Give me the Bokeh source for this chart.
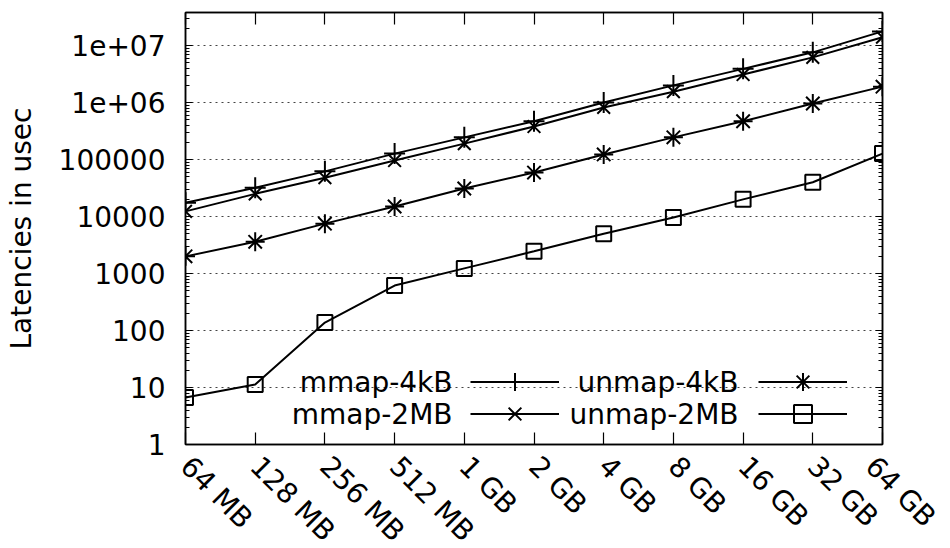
import math
from bokeh.plotting import figure
from bokeh.models import (Range1d, LogAxis, LinearAxis, FixedTicker, Legend,
                          LegendItem, Label)
from bokeh.embed import file_html
from bokeh.resources import INLINE
from bokeh.core.properties import value

sizes = ["64 MB", "128 MB", "256 MB", "512 MB", "1 GB", "2 GB", "4 GB",
         "8 GB", "16 GB", "32 GB", "64 GB"]
mmap_4kb = [17500, 32000, 62000, 127000, 245000, 470000, 1000000, 2000000,
            3900000, 7600000, 17700000]
mmap_2mb = [12300, 25000, 48000, 96000, 190000, 380000, 820000, 1550000,
            3100000, 6200000, 14000000]
unmap_4kb = [2000, 3600, 7500, 15000, 31000, 59000, 123000, 245000, 470000,
             960000, 1900000]
unmap_2mb = [6.7, 11.3, 138, 615, 1230, 2450, 5000, 9600, 20000, 40000, 127000]
y_ticks = [1, 10, 100, 1000, 10000, 100000, 1000000, 10000000]
y_tick_labels = ["1", "10", "100", "1000", "10000", "100000", "1e+06", "1e+07"]

FONT = "DejaVu Sans"
FS = "28px"

idx = list(range(len(sizes)))
minor = [k * t for t in y_ticks for k in range(2, 10)]

p = figure(frame_width=697, frame_height=432, y_axis_type="log",
           x_range=Range1d(0, len(sizes) - 1), y_range=Range1d(1, 3.8e7),
           output_backend="svg", toolbar_location=None,
           min_border_left=185, min_border_top=12, min_border_right=60,
           min_border_bottom=90)
p.outline_line_color = "black"
p.outline_line_width = 1.5
p.background_fill_color = "white"

yt = FixedTicker(ticks=y_ticks, minor_ticks=minor)
xt = FixedTicker(ticks=idx, minor_ticks=[])

def style_axis(ax, labels=True, major_in=7, minor_in=4):
    ax.axis_line_color = "black"
    ax.axis_line_width = 1.5
    ax.major_tick_in = major_in
    ax.major_tick_out = 0
    ax.minor_tick_in = minor_in
    ax.minor_tick_out = 0
    ax.major_tick_line_color = "black"
    ax.minor_tick_line_color = "black"
    ax.major_tick_line_width = 1.2
    ax.minor_tick_line_width = 1.2
    ax.major_label_text_font = FONT
    ax.major_label_text_color = "black"
    if labels:
        ax.major_label_text_font_size = FS
    else:
        ax.major_label_text_font_size = "1px"
        ax.major_label_text_alpha = 0
        ax.major_label_standoff = 0

# left y axis
ya = p.yaxis[0]
ya.ticker = yt
style_axis(ya)
ya.major_label_overrides = {t: l for t, l in zip(y_ticks, y_tick_labels)}
ya.major_label_standoff = 20
ya.axis_label = "Latencies in usec"
ya.axis_label_text_font = FONT
ya.axis_label_text_font_size = FS
ya.axis_label_text_font_style = "normal"
ya.axis_label_text_color = "black"
ya.axis_label_standoff = 18

# bottom x axis
xa = p.xaxis[0]
xa.ticker = xt
style_axis(xa, major_in=12)
xa.major_label_overrides = {i: s for i, s in zip(idx, sizes)}
xa.major_label_orientation = -math.pi / 4
xa.major_label_standoff = 17

# mirrored axes
ra = LogAxis(ticker=yt)
style_axis(ra, labels=False)
p.add_layout(ra, "right")
ta = LinearAxis(ticker=xt)
style_axis(ta, labels=False, major_in=12)
p.add_layout(ta, "above")

p.xgrid.visible = False
p.ygrid.ticker = yt
p.ygrid.grid_line_color = "#444444"
p.ygrid.grid_line_width = 1
p.ygrid.grid_line_dash = "2 4"

series = [
    ("mmap-4kB", mmap_4kb, "cross", 21),
    ("mmap-2MB", mmap_2mb, "x", 18),
    ("unmap-4kB", unmap_4kb, "asterisk", 19),
    ("unmap-2MB", unmap_2mb, "square", 15),
]
items = {}
for name, ys, mk, sz in series:
    lr = p.line(idx, ys, line_color="black", line_width=2)
    sr = p.scatter(idx, ys, marker=mk, size=sz, line_color="black",
                   line_width=2, fill_color=None)
    try:
        sr.clip = False
    except Exception:
        pass
    items[name] = LegendItem(label=value(" "), renderers=[lr, sr])

rows = [(["mmap-4kB", "unmap-4kB"], 40), (["mmap-2MB", "unmap-2MB"], 8)]
for names, ly in rows:
    legend = Legend(items=[items[n] for n in names], orientation="horizontal",
                    location=(285, ly), glyph_width=89, glyph_height=45,
                    label_width=186, label_height=45, label_standoff=0,
                    label_text_font_size="1px", spacing=13, padding=0,
                    margin=0, border_line_color=None,
                    background_fill_alpha=0)
    p.add_layout(legend, "center")

legend_text = [("mmap-4kB", 267, 62), ("mmap-2MB", 267, 30),
               ("unmap-4kB", 553, 62), ("unmap-2MB", 553, 30)]
for t, lx, ly in legend_text:
    p.add_layout(Label(x=lx, y=ly, x_units="screen", y_units="screen",
                       text=t, text_align="right", text_baseline="middle",
                       text_font=FONT, text_font_size=FS,
                       text_color="black"))

open("out.html", "w").write(file_html(p, INLINE))
